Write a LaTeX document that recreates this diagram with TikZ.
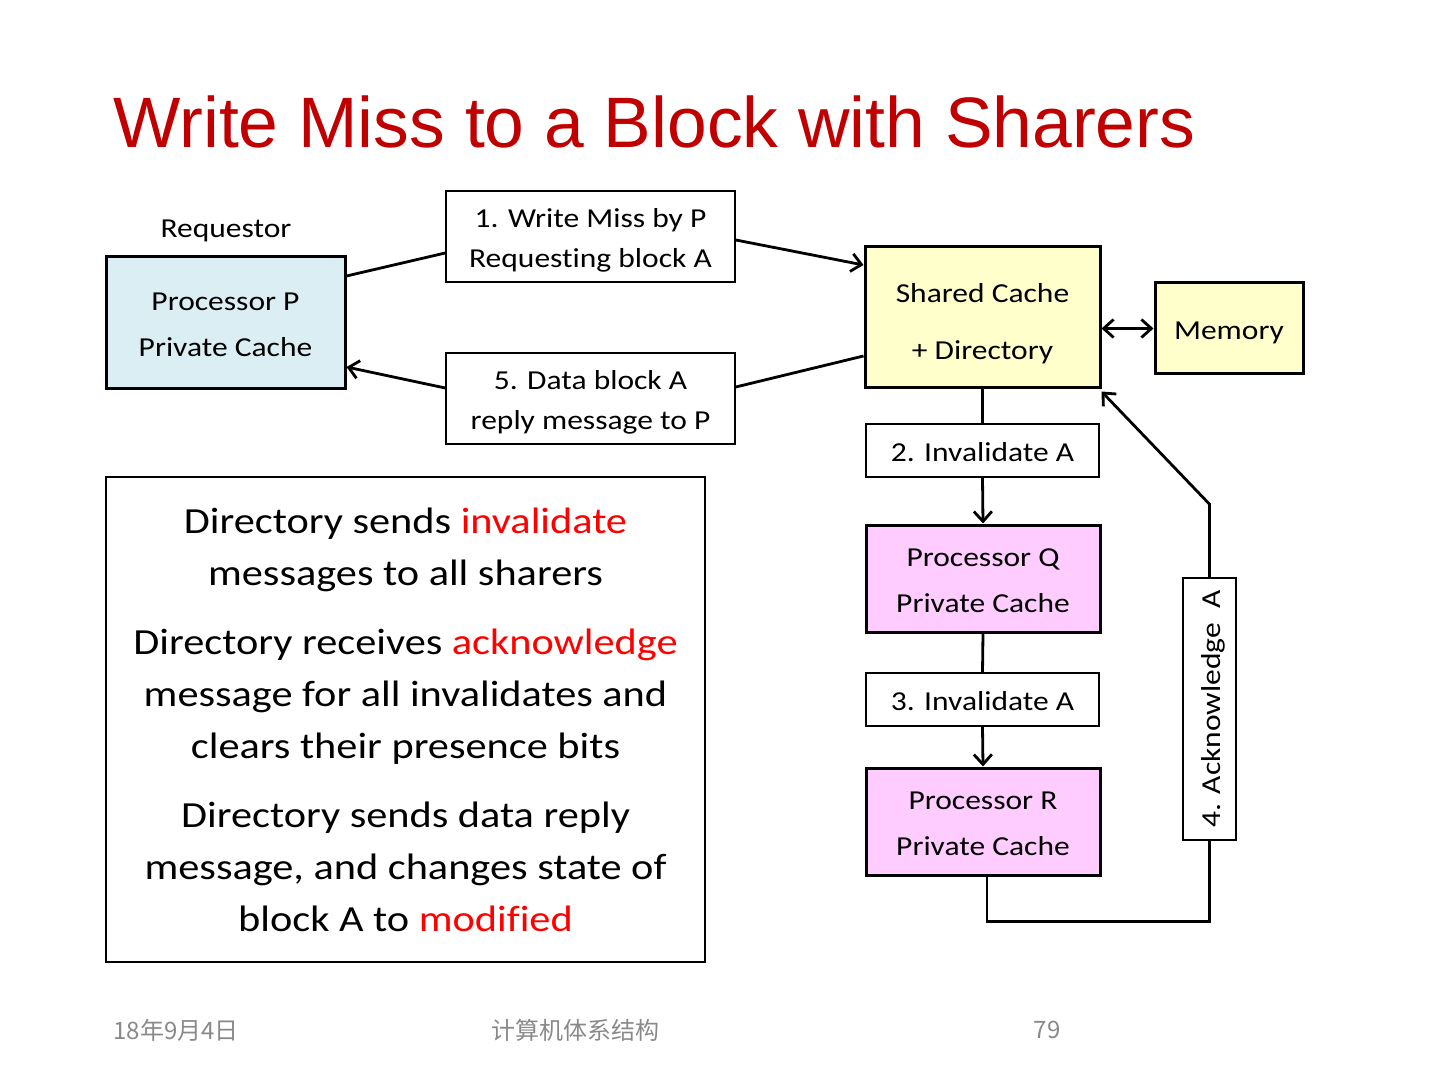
\documentclass[tikz,border=0pt]{standalone}
\usepackage{fontspec}
\setmainfont{Carlito}
\newfontfamily\boxfont[FakeStretch=1.15,Ligatures=NoCommon]{Carlito}
\newfontfamily\titlefont{Liberation Sans}
\newfontfamily\cjkfont{Noto Sans CJK SC}
\usetikzlibrary{arrows.meta}
\definecolor{titlered}{HTML}{C00000}
\definecolor{cacheblue}{HTML}{DAEEF3}
\definecolor{diryellow}{HTML}{FFFFCC}
\definecolor{sharerpink}{HTML}{FFCCFF}
\definecolor{footgray}{HTML}{898989}

\begin{document}
\begin{tikzpicture}[x=0.5pt,y=-0.5pt,>={Straight Barb[length=5pt,width=9pt]},
  cachebox/.style={draw, line width=1.5pt, inner sep=0pt, align=center,
    text height=34pt, text depth=0pt,
    font=\boxfont\fontsize{13.7}{23}\selectfont},
  msgbox/.style={draw, line width=0.8pt, inner sep=0pt, align=center, fill=white,
    text height=11pt, text depth=0pt,
    font=\boxfont\fontsize{13.7}{20}\selectfont},
  twoline/.style={text height=31pt},
  link/.style={line width=1.4pt},
  footer/.style={font=\cjkfont\fontsize{12}{14}\selectfont, text=footgray, inner sep=0pt}]
  \useasboundingbox (0,0) rectangle (1440,1080);

  % Title
  \node[anchor=base west, inner sep=0pt, text=titlered,
    font=\titlefont\fontsize{35.7}{40}\selectfont] (title) at (113,148)
    {Write Miss to a Block with Sharers};

  % Requestor side
  \node[font=\boxfont\fontsize{13.7}{16}\selectfont] (reqlabel) at (226,231) {Requestor};
  \node[cachebox, fill=cacheblue, minimum width=119.5pt, minimum height=66pt] (procP)
    at (225.5,323) {Processor P\\Private Cache};

  % Messages between P and the directory
  \node[msgbox, twoline, minimum width=144.5pt, minimum height=45.5pt] (msgone)
    at (590.5,236.5) {1. Write Miss by P\\Requesting block A};
  \node[msgbox, twoline, minimum width=144.5pt, minimum height=45.5pt] (msgfive)
    at (590.5,398.5) {5. Data block A\\reply message to P};

  % Home node
  \node[cachebox, fill=diryellow, minimum width=117.5pt, minimum height=70.5pt,
    text height=42pt, font=\boxfont\fontsize{13.7}{28.5}\selectfont] (shared)
    at (982.5,317.5) {Shared Cache\\+ Directory};
  \node[cachebox, fill=diryellow, minimum width=74pt, minimum height=45.5pt,
    text height=11pt] (memory) at (1229,328.5) {Memory};

  % Sharers
  \node[msgbox, minimum width=116.5pt, minimum height=26.5pt] (invtwo)
    at (982.5,450.5) {2. Invalidate A};
  \node[cachebox, fill=sharerpink, minimum width=117pt, minimum height=53.5pt] (procQ)
    at (983,578.5) {Processor Q\\Private Cache};
  \node[msgbox, minimum width=116.5pt, minimum height=26.5pt] (invthree)
    at (982.5,699.5) {3. Invalidate A};
  \node[cachebox, fill=sharerpink, minimum width=117pt, minimum height=53.5pt] (procR)
    at (983,821.5) {Processor R\\Private Cache};
  \node[msgbox, rotate=90, minimum width=131pt, minimum height=26.5pt] (ack)
    at (1209.5,709) {4. Acknowledge~~A};

  % Explanation box
  \node[draw, line width=1.2pt, inner sep=0pt, align=center,
    minimum width=299.5pt, minimum height=242.5pt,
    font=\boxfont\fontsize{18.4}{26}\selectfont] (notes) at (405.5,719.5)
    {Directory sends \textcolor{red}{invalidate}\\
     messages to all sharers\\[8.5pt]
     Directory receives \textcolor{red}{acknowledge}\\
     message for all invalidates and\\
     clears their presence bits\\[8.5pt]
     Directory sends data reply\\
     message, and changes state of\\
     block A to \textcolor{red}{modified}};

  % Connectors
  \draw[link] ([yshift=23.5pt]procP.east) -- ([yshift=-8.25pt]msgone.west);
  \draw[link,->] ([yshift=-1.75pt]msgone.east) -- ([yshift=26.25pt]shared.west);
  \draw[link] ([yshift=-19.25pt]shared.west) -- ([yshift=5.75pt]msgfive.east);
  \draw[link,->] ([yshift=5.25pt]msgfive.west) -- ([yshift=-22pt]procP.east);
  \draw[link,<->] ([yshift=-5.5pt]shared.east) -- (memory.west);
  \draw[link] (shared.south) -- (invtwo.north);
  \draw[link,->] (invtwo.south) -- (procQ.north);
  \draw[link] (procQ.south) -- (invthree.north);
  \draw[link,->] (invthree.south) -- (procR.north);
  \draw[link] ([xshift=2pt]procR.south) -- ++(0,45) -| (ack.west);
  \draw[link,->] (ack.east) -- ++(0,-73) -- ([yshift=-1pt]shared.south east);

  % Footer
  \node[footer, anchor=west] (date) at (113,1030) {18年9月4日};
  \node[footer] (course) at (575,1030) {计算机体系结构};
  \node[footer] (page) at (1047,1030) {79};
\end{tikzpicture}
\end{document}
